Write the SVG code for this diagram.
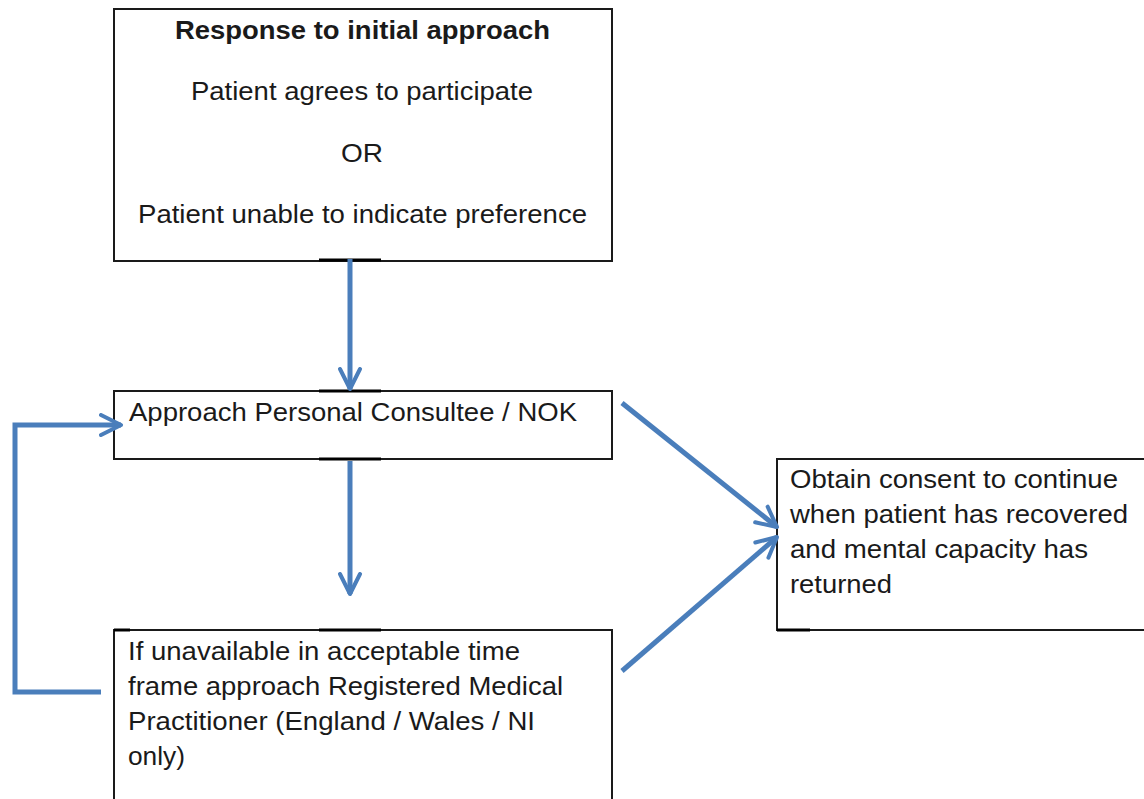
<svg xmlns="http://www.w3.org/2000/svg" width="1144" height="799" viewBox="0 0 1144 799">
<defs>
<style>
.box{fill:#fff;stroke:#1a1a1a;stroke-width:2}
.t{font-family:"Liberation Sans",Arial,sans-serif;font-size:26.5px;fill:#1a1a1a}
.c{fill:none;stroke:#4a7ebb;stroke-width:5;stroke-linejoin:miter}
.tick{stroke:#000;stroke-width:3}
</style>
<marker id="ah" viewBox="0 0 10 10" refX="9" refY="5" markerWidth="5" markerHeight="5" markerUnits="strokeWidth" orient="auto">
<path d="M1,1 L9,5 L1,9" fill="none" stroke="#4a7ebb" stroke-width="1.6" stroke-linecap="round" stroke-linejoin="round"/>
</marker>
</defs>
<rect width="1144" height="799" fill="#fff"/>
<g id="n1">
<rect class="box" x="114" y="9" width="498" height="252"/>
<text class="t" x="175" y="39" font-weight="bold" textLength="375" lengthAdjust="spacingAndGlyphs">Response to initial approach</text>
<text class="t" x="191" y="100" textLength="342" lengthAdjust="spacingAndGlyphs">Patient agrees to participate</text>
<text class="t" x="341" y="162" textLength="42" lengthAdjust="spacingAndGlyphs">OR</text>
<text class="t" x="138" y="223" textLength="449" lengthAdjust="spacingAndGlyphs">Patient unable to indicate preference</text>
</g>
<g id="n2">
<rect class="box" x="114" y="391" width="498" height="68"/>
<text class="t" x="129" y="421" textLength="448" lengthAdjust="spacingAndGlyphs">Approach Personal Consultee / NOK</text>
</g>
<g id="n3">
<rect class="box" x="114" y="630" width="498" height="180"/>
<text class="t" x="128" y="660" textLength="392" lengthAdjust="spacingAndGlyphs">If unavailable in acceptable time</text>
<text class="t" x="128" y="695" textLength="435" lengthAdjust="spacingAndGlyphs">frame approach Registered Medical</text>
<text class="t" x="128" y="730" textLength="407" lengthAdjust="spacingAndGlyphs">Practitioner (England / Wales / NI</text>
<text class="t" x="128" y="765" textLength="57" lengthAdjust="spacingAndGlyphs">only)</text>
</g>
<g id="n4">
<rect class="box" x="777" y="459" width="380" height="171"/>
<text class="t" x="790" y="488" textLength="328" lengthAdjust="spacingAndGlyphs">Obtain consent to continue</text>
<text class="t" x="790" y="523" textLength="338" lengthAdjust="spacingAndGlyphs">when patient has recovered</text>
<text class="t" x="790" y="558" textLength="298" lengthAdjust="spacingAndGlyphs">and mental capacity has</text>
<text class="t" x="790" y="593" textLength="102" lengthAdjust="spacingAndGlyphs">returned</text>
</g>
<g id="ticks">
<line class="tick" x1="319" y1="260" x2="381" y2="260"/>
<line class="tick" x1="319" y1="391" x2="381" y2="391"/>
<line class="tick" x1="319" y1="459" x2="381" y2="459"/>
<line class="tick" x1="319" y1="630" x2="381" y2="630"/>
<line class="tick" x1="114" y1="630" x2="130" y2="630"/>
<line class="tick" x1="777" y1="630" x2="810" y2="630"/>
</g>
<g id="connectors">
<line class="c" x1="350" y1="259" x2="350" y2="389" marker-end="url(#ah)"/>
<line class="c" x1="350" y1="461" x2="350" y2="594" marker-end="url(#ah)"/>
<polyline class="c" points="101,692 15,692 15,425 121,425" marker-end="url(#ah)"/>
<line class="c" x1="622" y1="403" x2="777" y2="527" marker-end="url(#ah)"/>
<line class="c" x1="622" y1="671" x2="777" y2="537" marker-end="url(#ah)"/>
</g>
</svg>
